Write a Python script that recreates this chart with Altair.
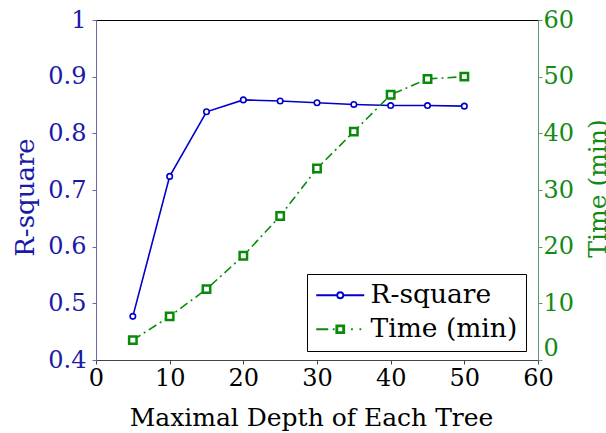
import altair as alt
import pandas as pd

depth = [5, 10, 15, 20, 25, 30, 35, 40, 45, 50]
r_square = [0.477, 0.724, 0.838, 0.859, 0.857, 0.854, 0.851, 0.849, 0.849, 0.848]
time_min = [3.5, 7.7, 12.5, 18.4, 25.4, 33.8, 40.3, 46.8, 49.6, 50.0]
series = ["R-square", "Time (min)"]
x_ticks = [0, 10, 20, 30, 40, 50, 60]
left_ticks = [0.4, 0.5, 0.6, 0.7, 0.8, 0.9, 1.0]
right_ticks = [0, 10, 20, 30, 40, 50, 60]

df = pd.DataFrame({"depth": depth, "rsq": r_square, "time": time_min})
legend_df = pd.DataFrame({"s": series})

FONT = "DejaVu Serif"
BLUE = "#0000cc"
GREEN = "#0a8a0a"
BLUE_TXT = "#1a1aa8"
GREEN_TXT = "#138a13"
FS = 24

# legend glyphs: line + marker drawn as one symbol path (unit = 12 px)
sym_rsq = ("M-1,0H0.75 M1.25,0 A0.25,0.25 0 1,0 0.75,0 "
           "A0.25,0.25 0 1,0 1.25,0 M1.25,0H3")
sym_time = ("M-1,0H0 M0.38,0H0.53 "
            "M0.67,-0.33H1.33V0.33H0.67Z M0.76,-0.24H1.24V0.24H0.76Z "
            "M1.9,0H2.05 M2.6,0H2.75")

legend_def = alt.Legend(
    title=None, orient="none", legendX=211, legendY=254,
    labelFont=FONT, labelFontSize=26.5, labelColor="black",
    labelExpr="datum.label + '\u00a0\u00a0'",
    strokeColor="black", padding=8, fillColor="white",
    symbolSize=576, symbolStrokeWidth=1.8, symbolOpacity=1,
    symbolFillColor="transparent",
    rowPadding=7, labelOffset=29, symbolOffset=0,
)

x_enc = alt.X(
    "depth:Q", scale=alt.Scale(domain=[0, 60], nice=False),
    axis=alt.Axis(values=x_ticks, title="Maximal Depth of Each Tree", grid=False,
                  labelFont=FONT, labelFontSize=FS, labelColor="black",
                  titleFont=FONT, titleFontSize=25, titleColor="black",
                  titleFontWeight="normal", domainColor="#444444", tickColor="#444444",
                  tickSize=4, labelPadding=2, labelFlush=False,
                  titleX=215, titleY=65, titleBaseline="alphabetic"),
)

y_left = alt.Y(
    "rsq:Q", scale=alt.Scale(domain=[0.4, 1.0], nice=False),
    axis=alt.Axis(values=left_ticks, title="R-square", grid=False, orient="left",
                  format="~g",
                  labelFont=FONT, labelFontSize=FS, labelColor=BLUE_TXT,
                  titleFont=FONT, titleFontSize=26, titleColor=BLUE_TXT,
                  titleFontWeight="normal", domainColor="#6a6aa8",
                  tickColor="#6a6aa8", tickSize=4, labelPadding=6,
                  titleAngle=270, titleX=-71, titleY=177,
                  titleAlign="center", titleBaseline="middle"),
)

y_right = alt.Y(
    "time:Q", scale=alt.Scale(domain=[0, 60], nice=False),
    axis=alt.Axis(values=right_ticks, title="Time (min)", grid=False, orient="right",
                  labelFont=FONT, labelFontSize=FS, labelColor=GREEN_TXT,
                  labelBaseline={"condition": {"test": "datum.value === 0", "value": "bottom"},
                                 "value": "middle"},
                  titleFont=FONT, titleFontSize=25, titleColor=GREEN_TXT,
                  titleFontWeight="normal", domainColor="#5a9a6a",
                  tickColor="#5a9a6a", tickSize=4, labelPadding=1,
                  titleAngle=270, titleX=59, titleY=168,
                  titleAlign="center", titleBaseline="middle"),
)

base = alt.Chart(df)

left = alt.layer(
    base.mark_line(color=BLUE, strokeWidth=1.6).encode(x=x_enc, y=y_left),
    base.mark_point(shape="circle", filled=False, fill="white", color=BLUE,
                    size=30, strokeWidth=1.6, opacity=1).encode(x=x_enc, y=y_left),
)

right = alt.layer(
    base.mark_line(color=GREEN, strokeWidth=1.6, strokeDash=[9, 4, 2, 4]).encode(x=x_enc, y=y_right),
    base.mark_point(shape="square", filled=False, fill="white", color=GREEN,
                    size=55, strokeWidth=2.5, opacity=1).encode(x=x_enc, y=y_right),
)

legend_layer = alt.Chart(legend_df).mark_point(
    filled=False, opacity=0
).encode(
    color=alt.Color("s:N", scale=alt.Scale(domain=series, range=[BLUE, GREEN]),
                    legend=legend_def),
    shape=alt.Shape("s:N", scale=alt.Scale(domain=series, range=[sym_rsq, sym_time]),
                    legend=legend_def),
)

chart = alt.layer(left, right, legend_layer).resolve_scale(y="independent").properties(
    width=442, height=340,
    autosize=alt.AutoSizeParams(type="none"),
    padding={"left": 96, "top": 20, "right": 68, "bottom": 73},
    background="white",
).configure_view(stroke="black", strokeWidth=1)

chart.save("out.html", embed_options={"renderer": "svg", "actions": False})
